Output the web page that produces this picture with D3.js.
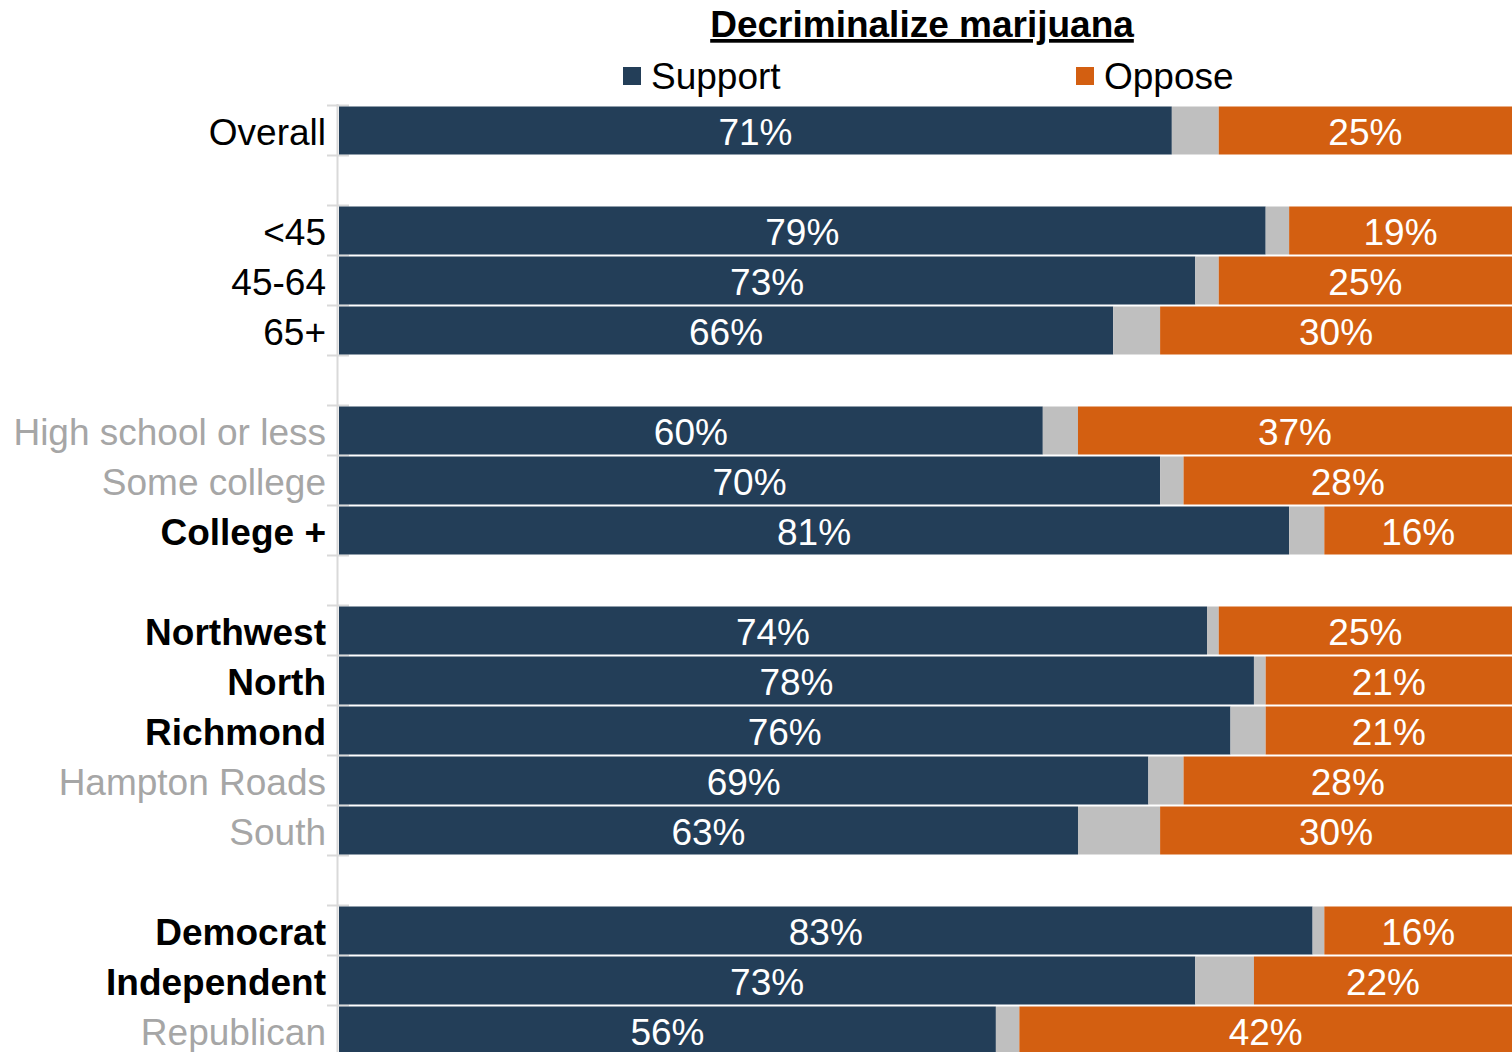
<!DOCTYPE html>
<html>
<head>
<meta charset="utf-8">
<script src="https://cdn.jsdelivr.net/npm/d3@7"></script>
<style>
  html, body { margin: 0; padding: 0; background: #fff; }
  svg { display: block; }
  text { font-family: "Liberation Sans", Arial, sans-serif; }
</style>
</head>
<body>
<svg id="chart" width="1512" height="1052"></svg>
<script>
// ---- data ----
const categories = ["Overall", "", "<45", "45-64", "65+", "", "High school or less", "Some college", "College +", "", "Northwest", "North", "Richmond", "Hampton Roads", "South", "", "Democrat", "Independent", "Republican"];
const support = [71, null, 79, 73, 66, null, 60, 70, 81, null, 74, 78, 76, 69, 63, null, 83, 73, 56];
const unsure  = [4, null, 2, 2, 4, null, 3, 2, 3, null, 1, 1, 3, 3, 7, null, 1, 5, 2];
const oppose  = [25, null, 19, 25, 30, null, 37, 28, 16, null, 25, 21, 21, 28, 30, null, 16, 22, 42];
const seriesNames = ["Support", "Oppose"];
const title = "Decriminalize marijuana";

// ---- label emphasis (style) ----
const boldLabels = new Set(["College +", "Northwest", "North", "Richmond", "Democrat", "Independent"]);
const grayLabels = new Set(["High school or less", "Some college", "Hampton Roads", "South", "Republican"]);

const C_SUP = "#233E58", C_UNS = "#BFBFBF", C_OPP = "#D35F11";
const FS = 37;

const svg = d3.select("#chart");
const rows = categories.map((c, i) => ({ i, c, s: support[i], u: unsure[i], o: oppose[i] }));

const y = d3.scaleBand().domain(rows.map(d => d.i)).range([105.5, 105.5 + 50 * rows.length]).padding(0);
const x = d3.scaleLinear().domain([0, 100]).range([339, 1512]);

// axis line + ticks at band boundaries
const ax = svg.append("g");
ax.append("line").attr("x1", 337.5).attr("x2", 337.5).attr("y1", 104).attr("y2", 1052)
  .attr("stroke", "#D9D9D9").attr("stroke-width", 2);
const bounds = rows.map(d => y(d.i)).concat([y(rows.length - 1) + y.bandwidth()]);
ax.selectAll("line.tick").data(bounds).join("line").attr("class", "tick")
  .attr("x1", 327).attr("x2", 349).attr("y1", d => d).attr("y2", d => d)
  .attr("stroke", "#D9D9D9").attr("stroke-width", 2);

// bars
const data = rows.filter(d => d.s != null);
const g = svg.append("g");
const segs = [];
data.forEach(d => {
  segs.push({ row: d.i, x0: 0, x1: d.s, col: C_SUP, lab: d.s + "%" });
  segs.push({ row: d.i, x0: d.s, x1: d.s + d.u, col: C_UNS, lab: null });
  segs.push({ row: d.i, x0: 100 - d.o, x1: 100, col: C_OPP, lab: d.o + "%" });
});
g.selectAll("rect").data(segs).join("rect")
  .attr("x", d => x(d.x0))
  .attr("width", d => x(d.x1) - x(d.x0))
  .attr("y", d => y(d.row) + 1)
  .attr("height", y.bandwidth() - 2)
  .attr("fill", d => d.col);
g.selectAll("text.val").data(segs.filter(d => d.lab)).join("text")
  .attr("class", "val")
  .attr("x", d => (x(d.x0) + x(d.x1)) / 2)
  .attr("y", d => y(d.row) + y.bandwidth() / 2)
  .attr("dy", "0.38em")
  .attr("text-anchor", "middle")
  .attr("fill", "#fff")
  .attr("font-size", FS)
  .text(d => d.lab);

// category labels
svg.append("g").selectAll("text").data(rows.filter(d => d.c)).join("text")
  .attr("x", 326)
  .attr("y", d => y(d.i) + y.bandwidth() / 2)
  .attr("dy", "0.38em")
  .attr("text-anchor", "end")
  .attr("font-size", FS)
  .attr("font-weight", d => boldLabels.has(d.c) ? "bold" : "normal")
  .attr("fill", d => grayLabels.has(d.c) ? "#A6A6A6" : "#000")
  .text(d => d.c);

// title
svg.append("text").attr("x", 922).attr("y", 37).attr("text-anchor", "middle")
  .attr("font-size", FS).attr("font-weight", "bold").attr("text-decoration", "underline")
  .text(title);

// legend
const legX = [623, 1076];
const leg = svg.append("g").selectAll("g").data(seriesNames).join("g")
  .attr("transform", (d, i) => `translate(${legX[i]},0)`);
leg.append("rect").attr("x", 0).attr("y", 67).attr("width", 18).attr("height", 18)
  .attr("fill", (d, i) => i === 0 ? C_SUP : C_OPP);
leg.append("text").attr("x", 28).attr("y", 89).attr("font-size", FS).text(d => d);
</script>
</body>
</html>
